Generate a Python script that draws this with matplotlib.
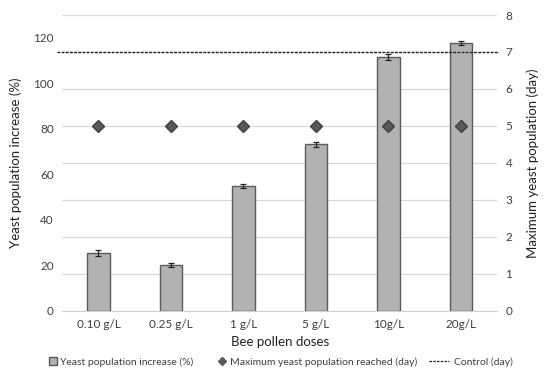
import matplotlib
matplotlib.use("Agg")
import matplotlib.pyplot as plt
from matplotlib.lines import Line2D
from matplotlib.patches import Patch
from matplotlib.legend_handler import HandlerBase

categories = ["0.10 g/L", "0.25 g/L", "1 g/L", "5 g/L", "10g/L", "20g/L"]
increase = [25.5, 20.0, 55.0, 73.2, 111.5, 117.6]
increase_err = [1.2, 0.9, 0.8, 1.2, 1.2, 1.0]
max_day = [5, 5, 5, 5, 5, 5]
control_day = 7

plt.rcParams['font.family'] = ['Lato', 'DejaVu Sans']

fig = plt.figure(figsize=(5.5, 3.75), dpi=100)
ax = fig.add_axes([0.113, 0.171, 0.791, 0.789])
ax2 = ax.twinx()

LEFT_MAX, RIGHT_MAX = 130, 8
x = list(range(len(categories)))
bar_color = "#b2b2b2"
edge = "#5a5a5a"
for v in range(1, RIGHT_MAX + 1):
    ax.axhline(v * LEFT_MAX / RIGHT_MAX, color="#d9d9d9", linewidth=0.9, zorder=0)
ax.bar(x, increase, width=0.31, color=bar_color, edgecolor=edge, linewidth=1.0, zorder=3,
       yerr=increase_err, error_kw=dict(ecolor="#222222", elinewidth=0.9, capsize=2.5, capthick=0.9))
ax.set_ylim(0, LEFT_MAX)
ax.set_yticks(range(0, 121, 20))
ax.set_xlim(-0.5, len(categories) - 0.5)
ax.set_xticks(x)
ax.set_xticklabels(categories)

ax2.set_ylim(0, RIGHT_MAX)
ax2.set_yticks(range(0, RIGHT_MAX + 1))
ax2.plot(x, max_day, linestyle="none", marker="D", markersize=6.5, color="#595959",
         markeredgecolor="#404040", zorder=5)
ax2.axhline(control_day, xmin=-0.012, xmax=1.005, color="#222222", linestyle=(0, (2, 1)),
            linewidth=1.0, zorder=6, clip_on=False)

for a in (ax, ax2):
    for s in a.spines.values():
        s.set_visible(False)
    a.tick_params(length=0, labelsize=8.5, colors="#404040", pad=6)
ax.spines['bottom'].set_visible(True)
ax.spines['bottom'].set_color("#d0d0d0")

ax.set_ylabel("Yeast population increase (%)", fontsize=9.5, color="#222222", labelpad=8)
ax2.set_ylabel("Maximum yeast population (day)", fontsize=9.5, color="#222222", labelpad=10)
ax.set_xlabel("Bee pollen doses", fontsize=9.5, color="#222222", labelpad=4)


class LongDash(HandlerBase):
    def create_artists(self, legend, orig, xdescent, ydescent, width, height, fontsize, trans):
        y = height / 2 - ydescent
        ln = Line2D([-xdescent - width * 1.6, -xdescent + width * 0.8], [y, y], color="#222222",
                    linestyle=(0, (2, 1)), linewidth=0.9, transform=trans)
        return [ln]


control_handle = Line2D([], [], color="#222222", linestyle=(0, (2, 1)), linewidth=1.0,
                        label="Control (day)")
handles = [
    Patch(facecolor=bar_color, edgecolor=edge, label="Yeast population increase (%)"),
    Line2D([], [], linestyle="none", marker="D", markersize=4.5, color="#595959",
           label="Maximum yeast population reached (day)"),
    control_handle,
]
fig.legend(handles=handles, loc="center", bbox_to_anchor=(0.51, 0.035), ncol=3, frameon=False,
           fontsize=7.5, handlelength=0.8, handletextpad=0.3, columnspacing=2.4,
           labelcolor="#404040", handler_map={control_handle: LongDash()})

fig.savefig("out.png", dpi=100)
